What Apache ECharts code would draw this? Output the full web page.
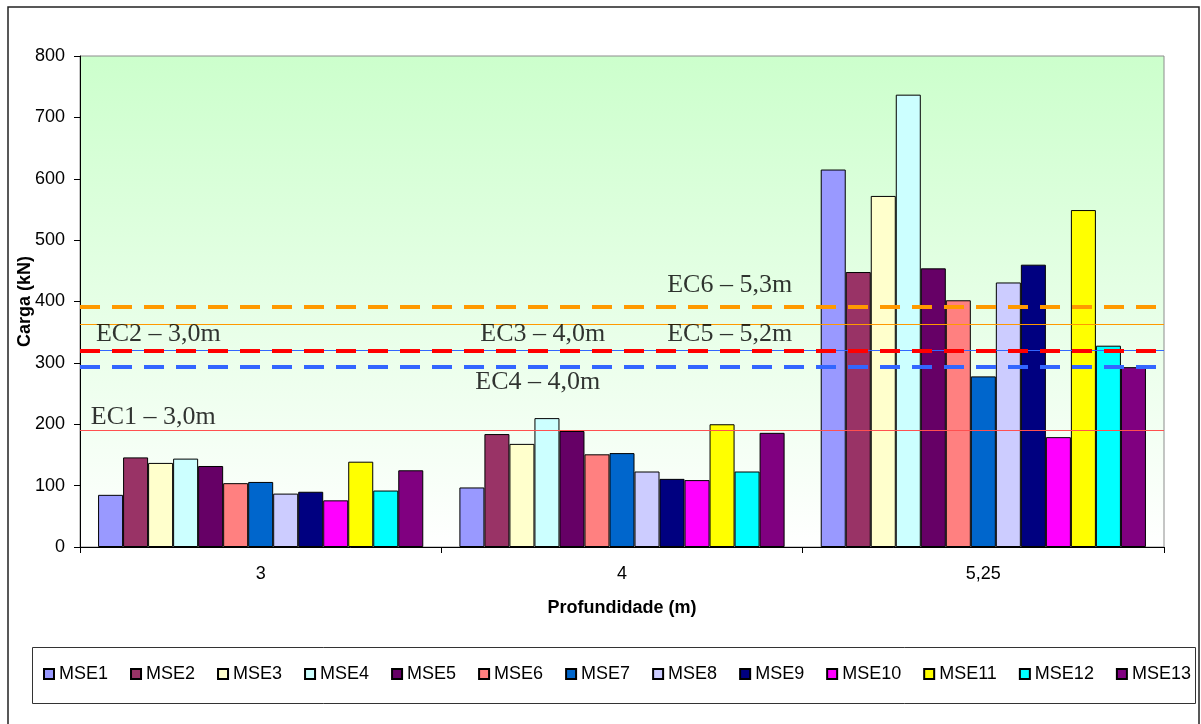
<!DOCTYPE html>
<html>
<head>
<meta charset="utf-8">
<script src="https://cdn.jsdelivr.net/npm/echarts@6/dist/echarts.min.js"></script>
<style>
  html, body { margin: 0; padding: 0; background: #ffffff; }
  #chart { width: 1201px; height: 724px; }
</style>
</head>
<body>
<div id="chart"></div>
<script>
// Depth categories (m)
const categories = ['3', '4', '5,25'];

// Pile names
const seriesNames = ['MSE1', 'MSE2', 'MSE3', 'MSE4', 'MSE5', 'MSE6', 'MSE7',
                     'MSE8', 'MSE9', 'MSE10', 'MSE11', 'MSE12', 'MSE13'];

// Load (kN) per pile at each depth
const depth3   = [85, 146, 137, 144, 132, 104, 106, 87, 90, 76, 139, 92, 125];
const depth4   = [97, 184, 168, 210, 189, 151, 153, 123, 111, 109, 200, 123, 186];
const depth525 = [615, 448, 572, 737, 454, 402, 278, 431, 460, 179, 549, 328, 293];

// Y axis range
const yMin = 0, yMax = 800, yStep = 100;

// Reference loads (kN) for the static load tests
const refLabels = ['EC1 – 3,0m', 'EC2 – 3,0m', 'EC3 – 4,0m', 'EC4 – 4,0m', 'EC5 – 5,2m', 'EC6 – 5,3m'];
const refValues = [190, 363, 320, 293, 320, 392];

// ---- styling ----
const barColors = ['#9999FF', '#993366', '#FFFFCC', '#CCFFFF', '#660066', '#FF8080', '#0066CC',
                   '#CCCCFF', '#000080', '#FF00FF', '#FFFF00', '#00FFFF', '#800080'];

const refStyles = [
  { color: '#FF5050', width: 1, type: 'solid' },
  { color: '#FF9900', width: 1, type: 'solid' },
  { color: '#3366FF', width: 1, type: 'solid' },
  { color: '#3366FF', width: 4, type: [20, 12] },
  { color: '#FF0000', width: 4, type: [20, 12] },
  { color: '#FF9900', width: 4, type: [20, 12] }
];
// label anchor (x on a 0..3 overlay axis, y in kN)
const refLabelPos = [[0.030, 211], [0.044, 347], [1.108, 347], [1.094, 269], [1.625, 347], [1.625, 427]];

const sans = '"Liberation Sans", Arial, sans-serif';
const serif = '"Liberation Serif", "Times New Roman", serif';

const chart = echarts.init(document.getElementById('chart'), null, { renderer: 'canvas' });

const barSeries = seriesNames.map((name, i) => ({
  name: name,
  type: 'bar',
  xAxisIndex: 0,
  yAxisIndex: 0,
  data: [depth3[i], depth4[i], depth525[i]],
  barGap: '0%',
  barCategoryGap: '10%',
  itemStyle: { color: barColors[i], borderColor: '#000000', borderWidth: 1 },
  emphasis: { disabled: true },
  z: 2
}));

const refSeries = {
  name: 'ref',
  type: 'scatter',
  xAxisIndex: 1,
  yAxisIndex: 0,
  symbolSize: 0,
  silent: true,
  z: 5,
  data: refLabels.map((t, i) => ({ name: t, value: refLabelPos[i] })),
  label: {
    show: true,
    formatter: '{b}',
    position: [0, 0],
    align: 'left',
    verticalAlign: 'middle',
    fontFamily: serif,
    fontSize: 26,
    color: '#000000'
  },
  markLine: {
    silent: true,
    symbol: ['none', 'none'],
    label: { show: false },
    animation: false,
    data: refValues.map((v, i) => ({ yAxis: v, lineStyle: refStyles[i] }))
  }
};

const option = {
  animation: false,
  backgroundColor: '#ffffff',
  textStyle: { fontFamily: sans },
  grid: {
    left: 80, right: 37, top: 56, bottom: 177,
    containLabel: false,
    outerBoundsMode: 'none',
    show: true,
    borderColor: '#8c8c8c',
    borderWidth: 1,
    backgroundColor: new echarts.graphic.LinearGradient(0, 0, 0, 1, [
      { offset: 0, color: '#CCFFCC' },
      { offset: 1, color: '#FFFFFF' }
    ])
  },
  legend: {
    data: seriesNames,
    left: 43,
    top: 665,
    padding: 0,
    itemWidth: 10,
    itemHeight: 10,
    itemGap: 22,
    icon: 'rect',
    textStyle: { fontFamily: sans, fontSize: 18, color: '#000000' },
    selectedMode: false
  },
  xAxis: [
    {
      type: 'category',
      data: categories,
      name: 'Profundidade (m)',
      nameLocation: 'middle',
      nameGap: 52,
      nameMoveOverlap: false,
      nameTextStyle: { fontFamily: sans, fontSize: 18, fontWeight: 'bold', color: '#000000' },
      axisLine: { lineStyle: { color: '#000000', width: 1 } },
      axisTick: { show: true, length: 6, alignWithLabel: false, lineStyle: { color: '#000000' } },
      axisLabel: { fontFamily: sans, fontSize: 18, color: '#000000', margin: 18 },
      splitLine: { show: false }
    },
    {
      type: 'value',
      min: 0,
      max: 3,
      show: false
    }
  ],
  yAxis: {
    type: 'value',
    min: yMin,
    max: yMax,
    interval: yStep,
    name: 'Carga (kN)',
    nameLocation: 'middle',
    nameGap: 46,
    nameMoveOverlap: false,
    nameTextStyle: { fontFamily: sans, fontSize: 18, fontWeight: 'bold', color: '#000000' },
    axisLine: { show: true, lineStyle: { color: '#000000', width: 1 } },
    axisTick: { show: true, length: 6, lineStyle: { color: '#000000' } },
    axisLabel: { fontFamily: sans, fontSize: 18, color: '#000000', margin: 15 },
    splitLine: { show: false }
  },
  graphic: [
    {
      type: 'rect',
      silent: true,
      z: -10,
      shape: { x: 8, y: 7, width: 1191, height: 730 },
      style: { fill: 'none', stroke: '#222222', lineWidth: 1.5 }
    },
    {
      type: 'rect',
      silent: true,
      z: -10,
      shape: { x: 32.5, y: 647.5, width: 1163, height: 56 },
      style: { fill: 'none', stroke: '#333333', lineWidth: 1 }
    }
  ],
  series: barSeries.concat([refSeries])
};

chart.setOption(option);
</script>
</body>
</html>
